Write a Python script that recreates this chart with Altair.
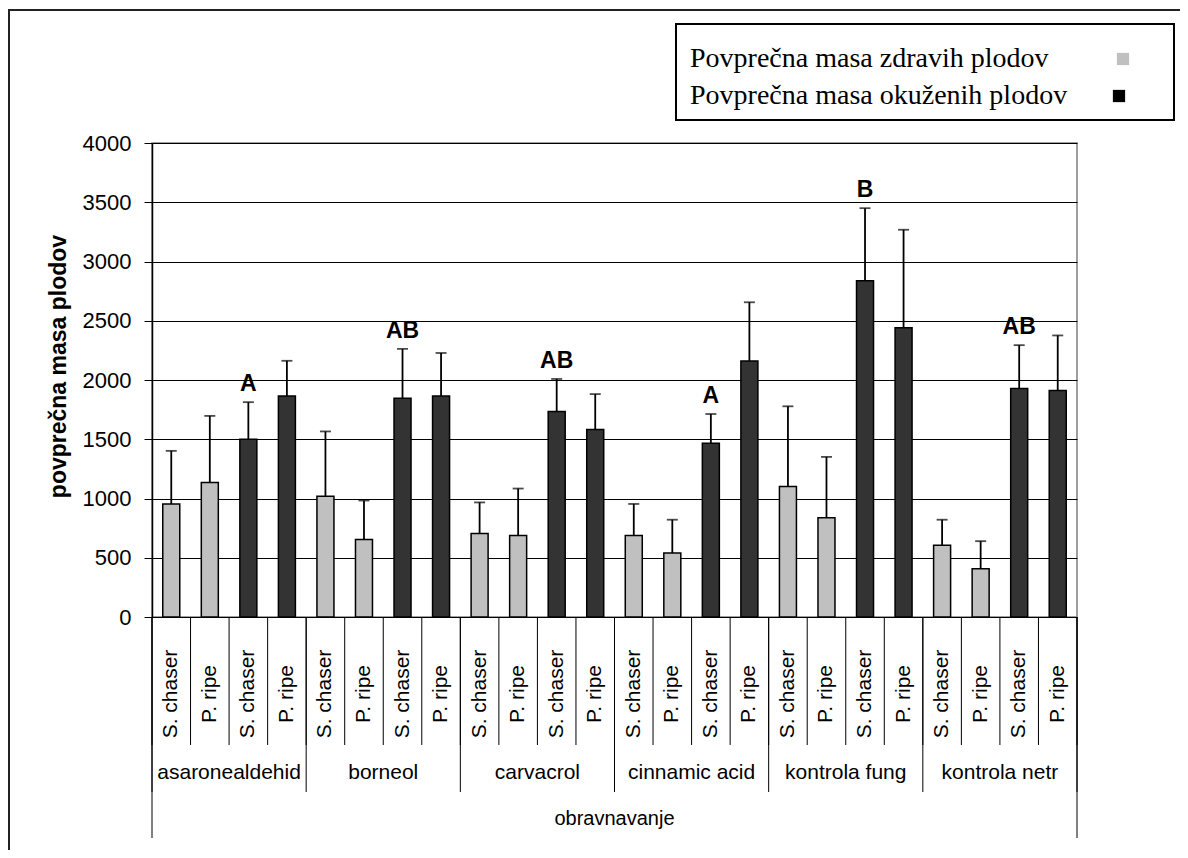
import altair as alt
import pandas as pd

# ---------------- data ----------------
treatments = ["asaronealdehid", "borneol", "carvacrol", "cinnamic acid", "kontrola fung", "kontrola netr"]
species = ["S. chaser", "P. ripe"]
series = ["Povprečna masa zdravih plodov", "Povprečna masa okuženih plodov"]
healthy_mean = [953, 1135, 1019, 653, 704, 687, 688, 540, 1101, 838, 606, 408]
healthy_sd = [449, 562, 547, 330, 263, 397, 266, 281, 677, 513, 215, 232]
infected_mean = [1500, 1864, 1847, 1864, 1734, 1583, 1467, 2161, 2838, 2441, 1929, 1912]
infected_sd = [313, 298, 415, 364, 275, 298, 246, 495, 612, 827, 365, 464]
letters = ["A", "AB", "AB", "A", "B", "AB"]  # above infected S. chaser bars
y_ticks = [0, 500, 1000, 1500, 2000, 2500, 3000, 3500, 4000]
x_title = "obravnavanje"
y_title = "povprečna masa plodov"

colors = ["#C0C0C0", "#333333"]
legend_colors = ["#C0C0C0", "#000000"]
W, H = 925, 474
SANS = "Liberation Sans"
SERIF = "Liberation Serif"

rows = []
for g, t in enumerate(treatments):
    for s_i, s in enumerate(series):
        means = healthy_mean if s_i == 0 else infected_mean
        sds = healthy_sd if s_i == 0 else infected_sd
        for sp_i, sp in enumerate(species):
            k = g * 2 + sp_i
            idx = g * 4 + s_i * 2 + sp_i
            rows.append({
                "pos": idx + 0.5,
                "treatment": t,
                "species": sp,
                "series": s,
                "mean": means[k],
                "top": means[k] + sds[k],
                "letter": letters[g] if (s_i == 1 and sp_i == 0) else "",
            })
df = pd.DataFrame(rows)
letters_df = df[df["letter"] != ""]

groups_df = pd.DataFrame({"treatment": treatments,
                          "gpos": [4 * g + 2 for g in range(len(treatments))]})
slot_df = pd.DataFrame({"b": list(range(0, 25))})
group_b_df = pd.DataFrame({"b": list(range(0, 25, 4))})
outer_df = pd.DataFrame({"b": [0, 24]})

xscale = alt.Scale(domain=[0, 24], nice=False, zero=False, padding=0)
yscale = alt.Scale(domain=[0, 4000], nice=False, zero=True)
color_scale = alt.Scale(domain=series, range=colors)

base = alt.Chart(df)
X = alt.X("pos:Q", scale=xscale, axis=None)

bars = base.mark_bar(size=17, stroke="black", strokeWidth=1.5).encode(
    x=X,
    y=alt.Y("mean:Q", scale=yscale,
            axis=alt.Axis(values=y_ticks, title=y_title, grid=True, format="d",
                          titleY=H / 2 - 14)),
    color=alt.Color("series:N", scale=color_scale, legend=None),
)

err = base.mark_rule(color="black", strokeWidth=1.8).encode(
    x=X, y=alt.Y("mean:Q", scale=yscale), y2="top:Q",
)

caps = base.mark_tick(orient="horizontal", size=11, thickness=1.8, color="black").encode(
    x=X, y=alt.Y("top:Q", scale=yscale),
)

letter_text = alt.Chart(letters_df).mark_text(
    font=SANS, fontSize=23, fontWeight="bold", color="black",
    baseline="bottom", align="center", dy=-6
).encode(
    x=X, y=alt.Y("top:Q", scale=yscale), text="letter:N",
)

# category separators under the axis
slot_lines = alt.Chart(slot_df).mark_rule(color="black", strokeWidth=1).encode(
    x=alt.X("b:Q", scale=xscale, axis=None),
    y=alt.value(H), y2=alt.value(H + 128),
)
group_lines = alt.Chart(group_b_df).mark_rule(color="black", strokeWidth=1).encode(
    x=alt.X("b:Q", scale=xscale, axis=None),
    y=alt.value(H), y2=alt.value(H + 175),
)
outer_lines = alt.Chart(outer_df).mark_rule(color="black", strokeWidth=1).encode(
    x=alt.X("b:Q", scale=xscale, axis=None),
    y=alt.value(H), y2=alt.value(H + 221),
)

species_labels = base.mark_text(
    font=SANS, fontSize=21, angle=270, align="center", baseline="middle", color="black"
).encode(
    x=X, y=alt.value(H + 77), text="species:N",
)

group_labels = alt.Chart(groups_df).mark_text(
    font=SANS, fontSize=21, align="center", baseline="middle", color="black"
).encode(
    x=alt.X("gpos:Q", scale=xscale, axis=None),
    y=alt.value(H + 156),
    text="treatment:N",
)

x_title_text = alt.Chart(pd.DataFrame({"t": [x_title]})).mark_text(
    font=SANS, fontSize=20, align="center", baseline="middle", color="black"
).encode(
    x=alt.value(W / 2), y=alt.value(H + 202), text="t:N",
)

# outer frame of the chart area (cropped at right/bottom, as in the original)
frame = alt.Chart(pd.DataFrame({"a": [0]})).mark_rect(
    fill=None, stroke="#222222", strokeWidth=2
).encode(
    x=alt.value(-143), x2=alt.value(W + 300),
    y=alt.value(-133), y2=alt.value(H + 400),
)

# legend (symbols to the right of the text, as in the original)
legend_box = alt.Chart(pd.DataFrame({"a": [0]})).mark_rect(
    fill="white", stroke="black", strokeWidth=2
).encode(
    x=alt.value(524), x2=alt.value(1022),
    y=alt.value(-119), y2=alt.value(-23),
)
leg_rows_y = [-84, -47]
leg_sym_x = [971, 967]
leg_layers = []
for i, s in enumerate(series):
    d = pd.DataFrame({"series": [s]})
    leg_layers.append(alt.Chart(d).mark_text(
        font=SERIF, fontSize=28, align="left", baseline="middle", color="black"
    ).encode(x=alt.value(538), y=alt.value(leg_rows_y[i]), text="series:N"))
    leg_layers.append(alt.Chart(d).mark_square(
        size=150, opacity=1, strokeWidth=0, color=legend_colors[i]
    ).encode(x=alt.value(leg_sym_x[i]), y=alt.value(leg_rows_y[i])))

chart = alt.layer(
    frame, bars, err, caps, letter_text, slot_lines, group_lines, outer_lines,
    species_labels, group_labels, x_title_text, legend_box, *leg_layers
).properties(
    width=W, height=H,
    autosize=alt.AutoSizeParams(type="none"),
    padding={"left": 144, "top": 135, "right": 103, "bottom": 233},
).configure_view(
    stroke="#808080", strokeWidth=1.5
).configure_axis(
    labelFont=SANS, labelFontSize=22, labelColor="black",
    titleFont=SANS, titleFontSize=23, titleFontWeight="bold", titleColor="black",
    domainColor="black", domainWidth=1.5, tickColor="black", tickSize=8, tickWidth=1,
    gridColor="black", gridWidth=1, labelPadding=13, titlePadding=12,
)

chart.save("out.html", embed_options={"renderer": "svg", "actions": False})
